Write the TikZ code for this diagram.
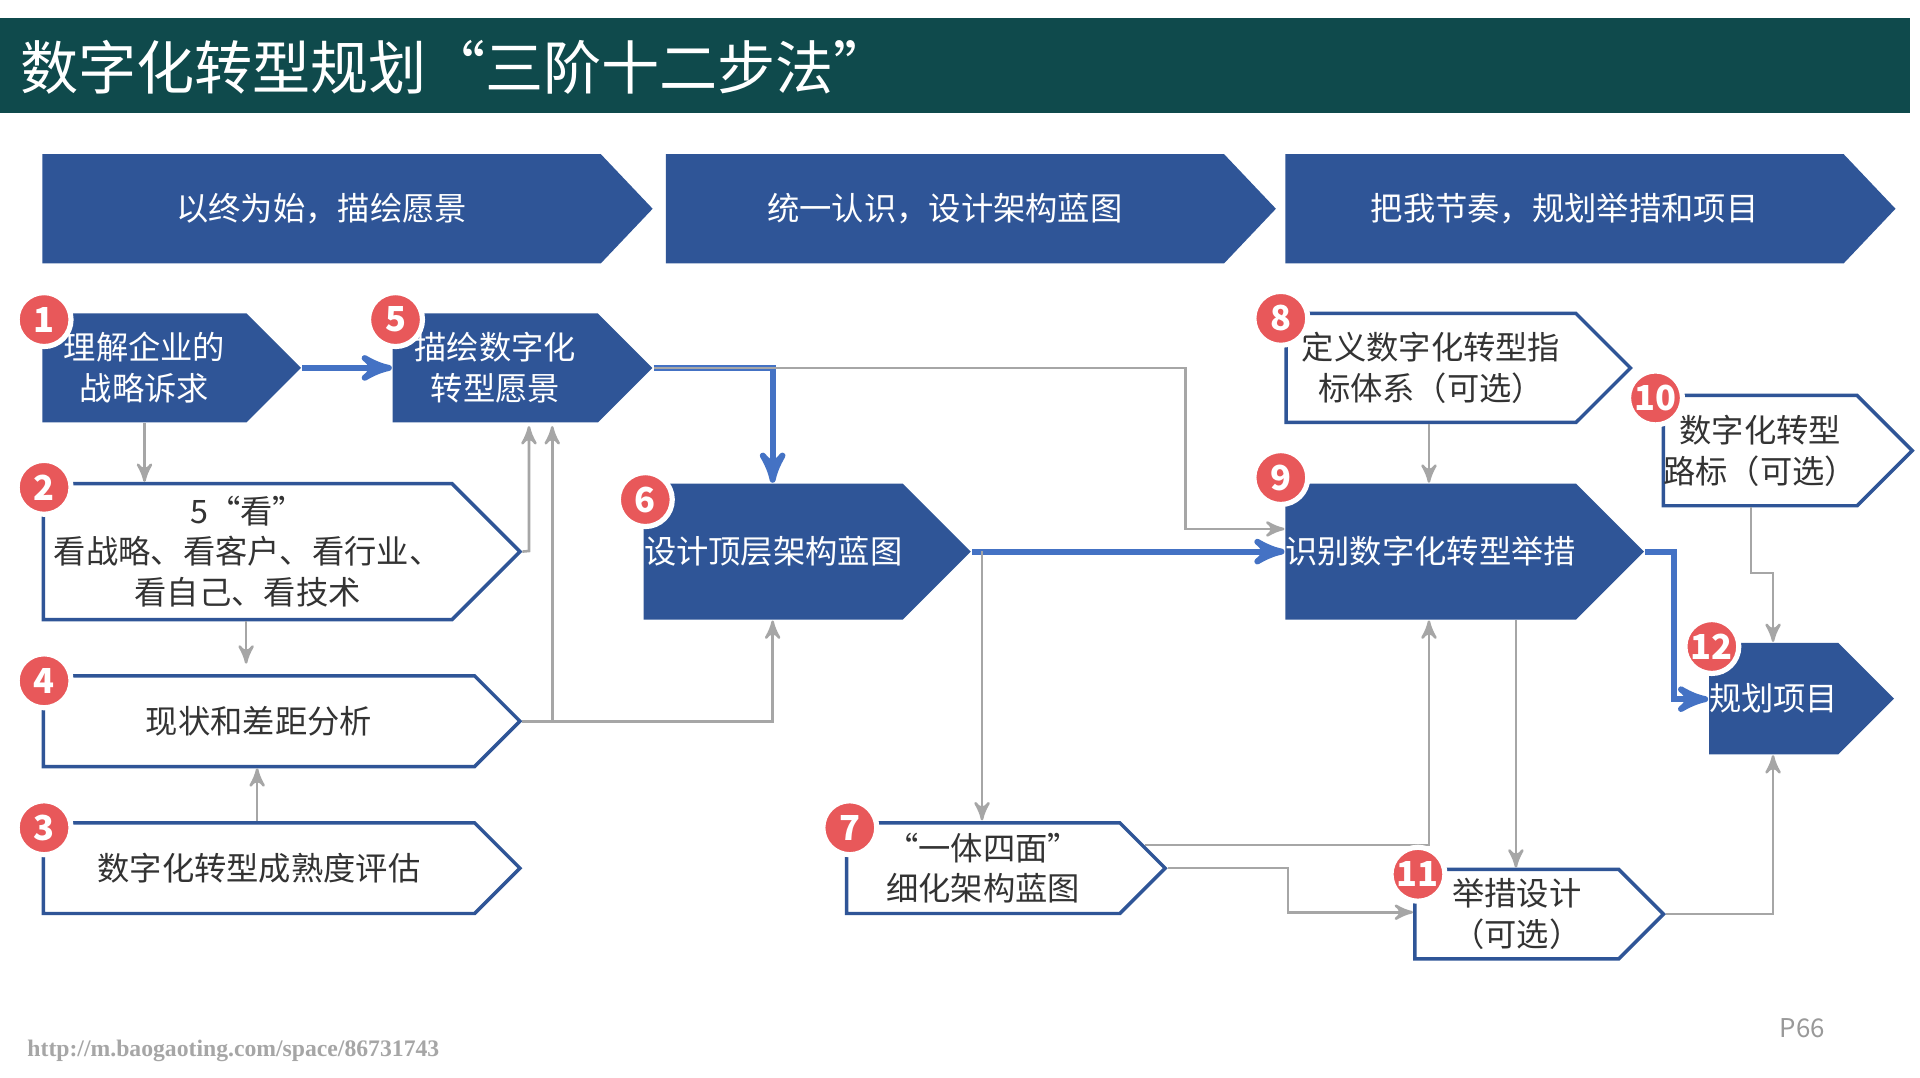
\documentclass[tikz,border=0pt]{standalone}
\usepackage{fontspec}
\setmainfont{Noto Sans CJK SC}
\newfontfamily\urlfont{Liberation Serif}
\usetikzlibrary{arrows,positioning,shapes.symbols}
\definecolor{tealbar}{HTML}{0F4A4C}
\definecolor{cblue}{HTML}{2F5597}
\definecolor{lblue}{HTML}{4472C4}
\definecolor{cred}{HTML}{E8585A}
\definecolor{cgray}{HTML}{A6A6A6}
\begin{document}
\begin{tikzpicture}[x=0.01cm,y=0.01cm,>=stealth',
  phase/.style={signal,signal to=east,signal pointer angle=93,fill=cblue,text=white,anchor=west,
        minimum width=4.98cm,minimum height=0.89cm,inner sep=0pt,font=\fontsize{7.5}{9}\selectfont},
  main step/.style={signal,signal to=east,signal pointer angle=90,fill=cblue,text=white,anchor=west,
        inner sep=0pt,align=center,font=\fontsize{7.5}{9.5}\selectfont},
  other step/.style={signal,signal to=east,signal pointer angle=90,fill=white,draw=cblue,thick,anchor=west,
        text=black!80,inner sep=0pt,align=center,font=\fontsize{7.5}{9.5}\selectfont},
  num/.style={circle,fill=cred,draw=white,line width=1.2pt,text=white,inner sep=0pt,
        minimum size=0.44cm,font=\fontsize{8}{8}\selectfont\bfseries},
  blue link/.style={->,draw=lblue,line width=1.4pt},
  gray link/.style={->,draw=cgray,line width=0.6pt}]
  \useasboundingbox (0,0) rectangle (1568,-880);
  \fill[white] (0,0) rectangle (1568,-880);
  \fill[tealbar] (0,-15) rectangle (1560,-92);
  \node[anchor=west,text=white,font=\fontsize{13.5}{16}\selectfont] (title) at (4,-55) {数字化转型规划“三阶十二步法”};

  % phases
  \node[phase] (p1) at (34,-170.5) {以终为始，描绘愿景};
  \node[phase] (p2) at (543,-170.5) {统一认识，设计架构蓝图};
  \node[phase] (p3) at (1049,-170.5) {把我节奏，规划举措和项目};

  % steps
  \node[main step,minimum width=2.11cm,minimum height=0.89cm] (n1) at (34,-300.5) {理解企业的\\战略诉求};
  \node[main step,minimum width=2.12cm,minimum height=0.89cm] (n5) at (320,-300.5) {描绘数字化\\转型愿景};
  \node[other step,minimum width=3.89cm,minimum height=1.11cm] (n2) at (34,-450.5) {5“看”\\看战略、看客户、看行业、\\看自己、看技术};
  \node[other step,minimum width=3.89cm,minimum height=0.74cm] (n4) at (34,-589) {现状和差距分析};
  \node[other step,minimum width=3.89cm,minimum height=0.74cm] (n3) at (34,-709) {数字化转型成熟度评估};
  \node[main step,minimum width=2.67cm,minimum height=1.11cm] (n6) at (525,-450.5) {设计顶层架构蓝图};
  \node[other step,minimum width=2.60cm,minimum height=0.74cm] (n7) at (690,-709) {“一体四面”\\细化架构蓝图};
  \node[other step,minimum width=2.81cm,minimum height=0.89cm] (n8) at (1049,-300.5) {定义数字化转型指\\标体系（可选）};
  \node[main step,minimum width=2.89cm,minimum height=1.11cm] (n9) at (1049,-450.5) {识别数字化转型举措};
  \node[other step,minimum width=1.89cm,minimum height=0.90cm] (n10) at (1357,-368) {数字化转型\\路标（可选）};
  \node[other step,minimum width=2.03cm,minimum height=0.73cm] (n11) at (1154,-746.5) {举措设计\\（可选）};
  \node[main step,minimum width=1.51cm,minimum height=0.91cm] (n12) at (1395,-570.5) {规划项目};

  % links
  \draw[blue link] (n1.east) -- (n5.west);
  \draw[blue link] (n5.east) -| (631,0 |- n6.north);
  \draw[gray link] (n5.east) -| (968,-432) -- (968,-432 -| n9.west);
  \draw[gray link] (118,0 |- n1.south) -- (118,0 |- n2.north);
  \draw[gray link] (n2.east) -- (432,-450) -- (432,-348);
  \draw[gray link] (201,0 |- n2.south) -- (201,-542);
  \draw[gray link] (210,0 |- n3.north) -- (210,0 |- n4.south);
  \draw[gray link] (n4.east) -| (451,-348);
  \draw[gray link] (n4.east) -| (631,0 |- n6.south);
  \draw[blue link] (n6.east) -- (n9.west);
  \draw[gray link] (802,-450) -- (802,-670);
  \draw[gray link] (935,-690) -| (1167,0 |- n9.south);
  \draw[gray link] (n7.east) -| (1052,-745) -- (1052,-745 -| n11.west);
  \draw[gray link] (1167,0 |- n8.south) -- (1167,0 |- n9.north);
  \draw[gray link] (1238,0 |- n9.south) -- (1238,0 |- n11.north);
  \draw[blue link] (n9.east) -| (1367,-571) -- (1367,-571 -| n12.west);
  \draw[gray link] (1430,0 |- n10.south) -- (1430,-468) -| (1448,0 |- n12.north);
  \draw[gray link] (n11.east) -| (1448,0 |- n12.south);

  % numbers
  \node[num] (b1) at (36,-261) {1};
  \node[num] (b5) at (323,-261) {5};
  \node[num] (b2) at (36,-398) {2};
  \node[num] (b4) at (36,-556) {4};
  \node[num] (b3) at (36,-676) {3};
  \node[num] (b6) at (527,-408) {6};
  \node[num] (b7) at (694,-676) {7};
  \node[num] (b8) at (1046,-260) {8};
  \node[num] (b9) at (1046,-390) {9};
  \node[num] (b10) at (1352,-325) {10};
  \node[num] (b11) at (1158,-714) {11};
  \node[num] (b12) at (1398,-528) {12};

  \node[anchor=west,text=black!35,font=\urlfont\fontsize{5.5}{6}\selectfont\bfseries] (url) at (10,-858) {http://m.baogaoting.com/space/86731743};
  \node[text=black!40,font=\fontsize{6}{7}\selectfont] (page) at (1472,-840) {P66};
\end{tikzpicture}
\end{document}
